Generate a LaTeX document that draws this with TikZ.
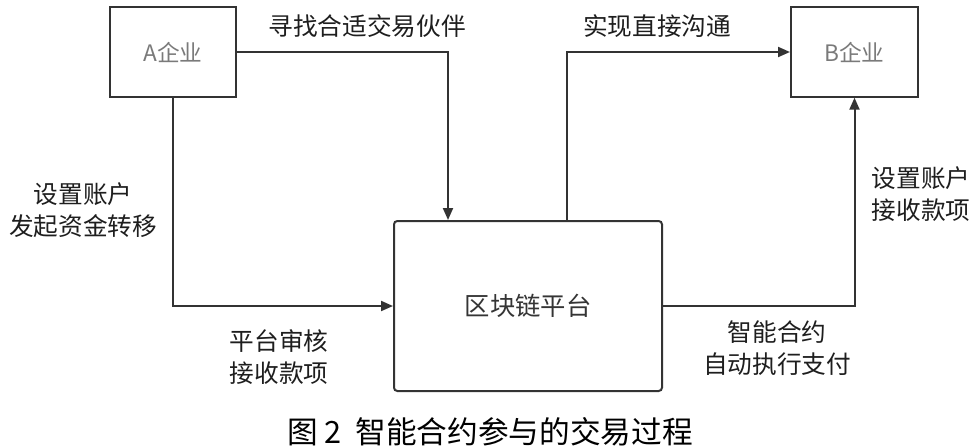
\documentclass[tikz,border=0pt]{standalone}
\usepackage{fontspec}
\setmainfont{Noto Sans CJK SC}
\usetikzlibrary{arrows.meta}
\definecolor{linec}{HTML}{333333}
\definecolor{boxtext}{HTML}{7A7A7A}
\definecolor{labtext}{HTML}{1E1E1E}
\tikzset{
  entity/.style={draw=linec, line width=1.5pt, fill=white, text=boxtext, font=\fontsize{17}{19}\selectfont, inner sep=0pt},
  platform/.style={draw=linec, line width=1.5pt, rounded corners=2.5pt, fill=white, text=labtext!90, font=\fontsize{19}{21}\selectfont, inner sep=0pt},
  flow/.style={draw=linec, line width=1.5pt, -{Triangle[length=9pt,width=7.5pt]}},
  lab/.style={text=labtext, align=center, font=\fontsize{18.5}{24.5}\selectfont, inner sep=0pt},
  figcaption/.style={text=black, font=\fontsize{23}{26}\selectfont, inner sep=0pt}
}
\begin{document}
\begin{tikzpicture}[x=0.75pt,y=-0.75pt]
\useasboundingbox (0,0) rectangle (978,447);
\node[entity, minimum width=94.5pt, minimum height=67.5pt] (A) at (173,52) {A企业};
\node[entity, minimum width=95.25pt, minimum height=67pt] (B) at (854.5,52) {B企业};
\node[platform, minimum width=201pt, minimum height=127.5pt] (P) at (528,306) {区块链平台};

\draw[flow] (A.east) -| ([xshift=-60pt]P.north);
\draw[flow] (A.south) |- (P.west);
\draw[flow] ([xshift=29.25pt]P.north) |- (B.west);
\draw[flow] (P.east) -| (B.south);

\node[lab] (l1) at (367,26) {寻找合适交易伙伴};
\node[lab] (l2) at (657,26) {实现直接沟通};
\node[lab] (l3) at (83,210) {设置账户\\发起资金转移};
\node[lab] (l4) at (279,357) {平台审核\\接收款项};
\node[lab] (l5) at (921,194) {设置账户\\接收款项};
\node[lab] (l6) at (777,348) {智能合约\\自动执行支付};
\node[figcaption] (t) at (490,432) {图\ 2\ \ 智能合约参与的交易过程};
\end{tikzpicture}
\end{document}
